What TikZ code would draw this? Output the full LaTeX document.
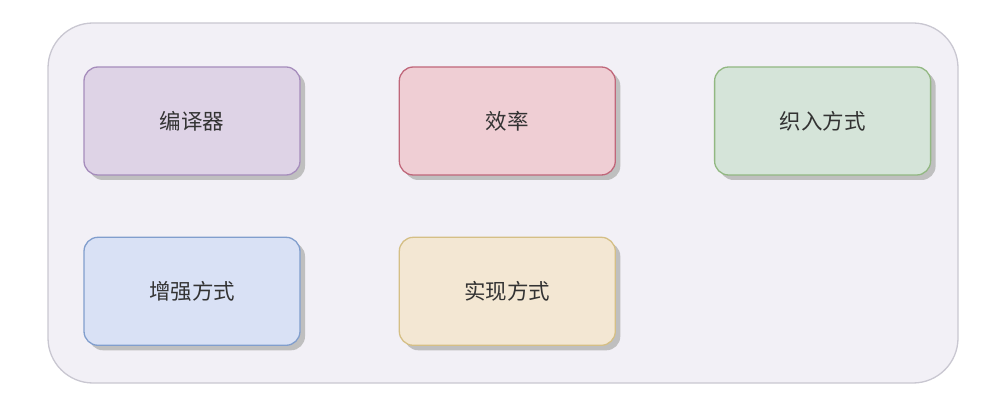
\documentclass[tikz,border=0pt]{standalone}
\usepackage{fontspec}
\newfontfamily\cjk{Noto Sans CJK SC}
\usetikzlibrary{positioning,shadows}

\definecolor{framefill}{HTML}{F2F0F6}
\definecolor{frameline}{HTML}{C9C7D1}
\definecolor{purplefill}{HTML}{DED3E6}
\definecolor{purpleline}{HTML}{A68DBC}
\definecolor{redfill}{HTML}{EFCED4}
\definecolor{redline}{HTML}{C0677A}
\definecolor{greenfill}{HTML}{D5E4D9}
\definecolor{greenline}{HTML}{92B882}
\definecolor{bluefill}{HTML}{D9E1F5}
\definecolor{blueline}{HTML}{819ECD}
\definecolor{yellowfill}{HTML}{F3E7D3}
\definecolor{yellowline}{HTML}{D5BF85}
\definecolor{textgray}{HTML}{333333}

\begin{document}
\begin{tikzpicture}[x=1pt,y=-1pt,node distance=61pt and 98pt,
    box/.style={rectangle,rounded corners=14pt,draw,line width=1.3pt,
      minimum width=216pt,minimum height=108pt,text=textgray,
      font=\cjk\fontsize{21.5}{26}\selectfont,
      drop shadow={shadow xshift=5pt,shadow yshift=-5pt,fill=black!25,opacity=1}}]

\useasboundingbox (0,0) rectangle (1003,411);

\node[rectangle,rounded corners=45pt,draw=frameline,fill=framefill,line width=1.3pt,
  minimum width=910pt,minimum height=360pt] (frame) at (503,203) {};

\node[box,draw=purpleline,fill=purplefill] (compiler) at (192,121) {编译器};
\node[box,draw=redline,fill=redfill] (speed) [right=of compiler] {效率};
\node[box,draw=greenline,fill=greenfill] (weave) [right=of speed] {织入方式};
\node[box,draw=blueline,fill=bluefill] (enhance) [below=of compiler] {增强方式};
\node[box,draw=yellowline,fill=yellowfill] (impl) [below=of speed] {实现方式};

\end{tikzpicture}
\end{document}
